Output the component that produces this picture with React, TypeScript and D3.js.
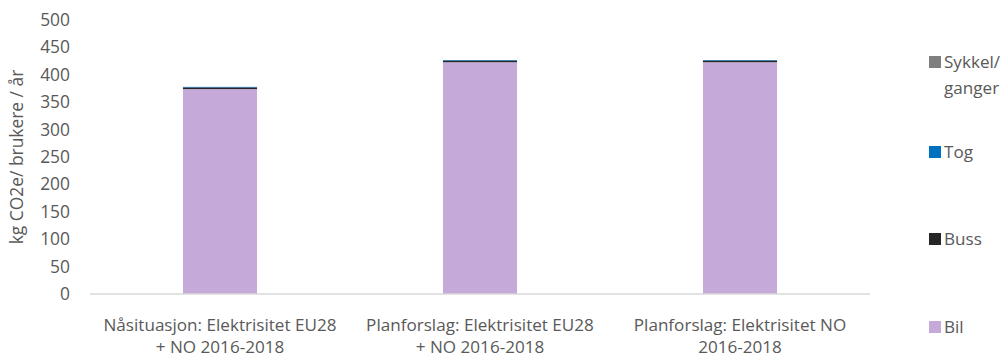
import React from "react";
import * as d3 from "d3";

const categories = [
  ["Nåsituasjon: Elektrisitet EU28", "+ NO 2016-2018"],
  ["Planforslag: Elektrisitet EU28", "+ NO 2016-2018"],
  ["Planforslag: Elektrisitet NO", "2016-2018"],
];
const bil = [374, 423, 423];
const buss = [3, 3, 3];
const tog = [1, 1, 1];
const sykkel = [0, 0, 0];
const yTicks = [0, 50, 100, 150, 200, 250, 300, 350, 400, 450, 500];
const seriesNames = ["Bil", "Buss", "Tog", "Sykkel/ganger"];
const colors = ["#c5aad9", "#262626", "#0070c0", "#7f7f7f"];

export default function App() {
  const W = 1007, H = 356;
  const left = 90, right = 870, top = 20, bottom = 294;
  const x = d3.scaleBand<number>().domain([0, 1, 2]).range([left, right]).paddingInner(0.715).paddingOuter(0.3575);
  const y = d3.scaleLinear().domain([0, 500]).range([bottom, top]);
  const rows = categories.map((_, i) => ({ i, Bil: bil[i], Buss: buss[i], Tog: tog[i], "Sykkel/ganger": sykkel[i] }));
  const stack = d3.stack<any>().keys(seriesNames)(rows);
  const font = "'Open Sans', Lato, sans-serif";
  const legendY: Record<string, number[]> = {
    "Sykkel/ganger": [62, 88],
    Tog: [152],
    Buss: [239],
    Bil: [327],
  };
  const fs = 17.4;
  const fl = 17.1;
  return (
    <svg width={W} height={H} style={{ position: "absolute", left: 0, top: 0 }} fontFamily={font}>
      <rect width={W} height={H} fill="#fff" />
      {yTicks.map((t) => (
        <text key={t} x={70} y={y(t)} dy="0.35em" textAnchor="end" fontSize={fs} fill="#595959">{t}</text>
      ))}
      <text transform={`translate(23,${(top + bottom) / 2}) rotate(-90)`} textAnchor="middle" fontSize={17.4} fill="#595959">kg CO2e/ brukere / år</text>
      {stack.map((s, si) =>
        s.map((d, i) => (
          <rect key={`${si}-${i}`} x={x(i)} width={x.bandwidth()} y={y(d[1])} height={Math.max(0, y(d[0]) - y(d[1]))} fill={colors[si]} />
        ))
      )}
      <line x1={left} x2={right} y1={bottom} y2={bottom} stroke="#d9d9d9" strokeWidth={1.5} />
      {categories.map((lines, i) => (
        <text key={i} x={x(i)! + x.bandwidth() / 2} y={331} textAnchor="middle" fontSize={fl} fill="#595959">
          {lines.map((l, j) => (
            <tspan key={j} x={x(i)! + x.bandwidth() / 2} dy={j === 0 ? 0 : 21.5}>{l}</tspan>
          ))}
        </text>
      ))}
      {seriesNames.map((n, si) => {
        const ys = legendY[n];
        return (
          <g key={n}>
            <rect x={929} y={ys[0] - 6} width={12} height={12} fill={colors[si]} />
            {n === "Sykkel/ganger" ? (
              <>
                <text x={944} y={ys[0]} dy="0.35em" fontSize={fl} fill="#595959">Sykkel/</text>
                <text x={944} y={ys[1]} dy="0.35em" fontSize={fl} fill="#595959">ganger</text>
              </>
            ) : (
              <text x={944} y={ys[0]} dy="0.35em" fontSize={fl} fill="#595959">{n}</text>
            )}
          </g>
        );
      })}
    </svg>
  );
}
